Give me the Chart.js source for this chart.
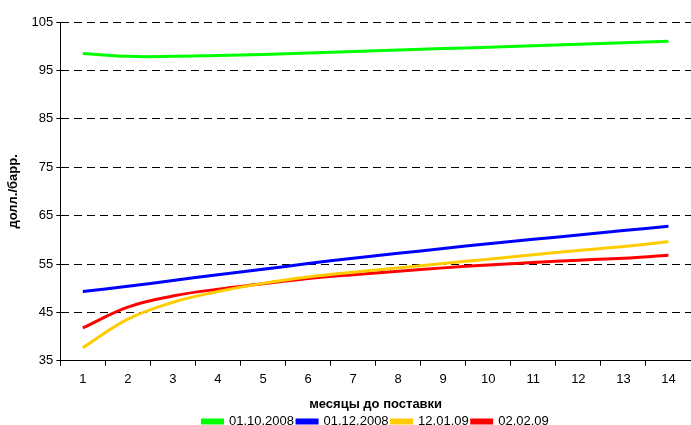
<!DOCTYPE html>
<html>
<head>
<meta charset="utf-8">
<script src="https://cdn.jsdelivr.net/npm/chart.js@4/dist/chart.umd.min.js"></script>
<style>
  html, body { margin: 0; padding: 0; background: #fff; }
  #wrap { width: 691px; height: 425px; }
</style>
</head>
<body>
<div id="wrap"><canvas id="chart"></canvas></div>
<script>
// months to delivery
const months = ["1", "2", "3", "4", "5", "6", "7", "8", "9", "10", "11", "12", "13", "14"];

// forward curves, $/bbl
const curve_01_10_2008 = [98.5, 97.9, 97.9, 98.1, 98.3, 98.6, 98.9, 99.2, 99.5, 99.8, 100.1, 100.4, 100.7, 101.0];
const curve_01_12_2008 = [49.3, 50.4, 51.6, 52.8, 53.9, 55.1, 56.2, 57.2, 58.2, 59.2, 60.1, 61.0, 61.9, 62.8];
const curve_12_01_09   = [37.7, 43.6, 47.1, 49.3, 51.0, 52.3, 53.3, 54.2, 55.1, 56.0, 56.9, 57.8, 58.6, 59.6];
const curve_02_02_09   = [41.8, 46.1, 48.4, 49.8, 50.9, 52.0, 52.8, 53.5, 54.2, 54.8, 55.3, 55.8, 56.2, 56.8];

const yTicks = [35, 45, 55, 65, 75, 85, 95, 105];

const FONT = "'Liberation Sans', Arial, sans-serif";

function line(label, data, color) {
    return {
        label: label,
        data: data,
        borderColor: color,
        backgroundColor: color,
        borderWidth: 3,
        tension: 0.4,
        pointRadius: 0,
        fill: false
    };
}

new Chart(document.getElementById("chart"), {
    type: "line",
    data: {
        labels: months,
        datasets: [
            line("01.10.2008", curve_01_10_2008, "#00ff00"),
            line("01.12.2008", curve_01_12_2008, "#0000ff"),
            line("12.01.09",   curve_12_01_09,   "#ffcc00"),
            line("02.02.09",   curve_02_02_09,   "#ff0000")
        ]
    },
    options: {
        responsive: true,
        maintainAspectRatio: false,
        animation: false,
        layout: { padding: { top: 22, right: 0, left: 6, bottom: -13 } },
        scales: {
            x: {
                offset: true,
                border: { color: "#000", width: 1 },
                grid: { offset: true, drawOnChartArea: false, color: "#000", tickLength: 5 },
                ticks: { color: "#000", font: { family: FONT, size: 13 }, padding: 6, maxRotation: 0 },
                title: {
                    display: true,
                    text: "месяцы до поставки",
                    color: "#000",
                    font: { family: FONT, size: 13, weight: "bold" },
                    padding: { top: 3, bottom: 0 }
                }
            },
            y: {
                min: 35,
                max: 105,
                afterBuildTicks: (axis) => { axis.ticks = yTicks.map(v => ({ value: v })); },
                border: { color: "#000", width: 1, dash: [8, 5] },
                grid: {
                    color: (ctx) => ctx.tick && ctx.tick.value === 35 ? "rgba(0,0,0,0)" : "#000",
                    tickColor: "#000",
                    tickBorderDash: [],
                    tickLength: 4,
                    lineWidth: 1
                },
                ticks: { color: "#000", font: { family: FONT, size: 13 }, padding: 3 },
                title: {
                    display: true,
                    text: "долл./барр.",
                    color: "#000",
                    font: { family: FONT, size: 13, weight: "bold" },
                    padding: { top: 0, bottom: 7 }
                }
            }
        },
        plugins: {
            legend: {
                position: "bottom",
                fullSize: false,
                labels: {
                    color: "#000",
                    font: { family: FONT, size: 13 },
                    boxWidth: 20,
                    boxHeight: 3,
                    padding: 3
                }
            },
            tooltip: { enabled: false }
        }
    }
});
</script>
</body>
</html>
